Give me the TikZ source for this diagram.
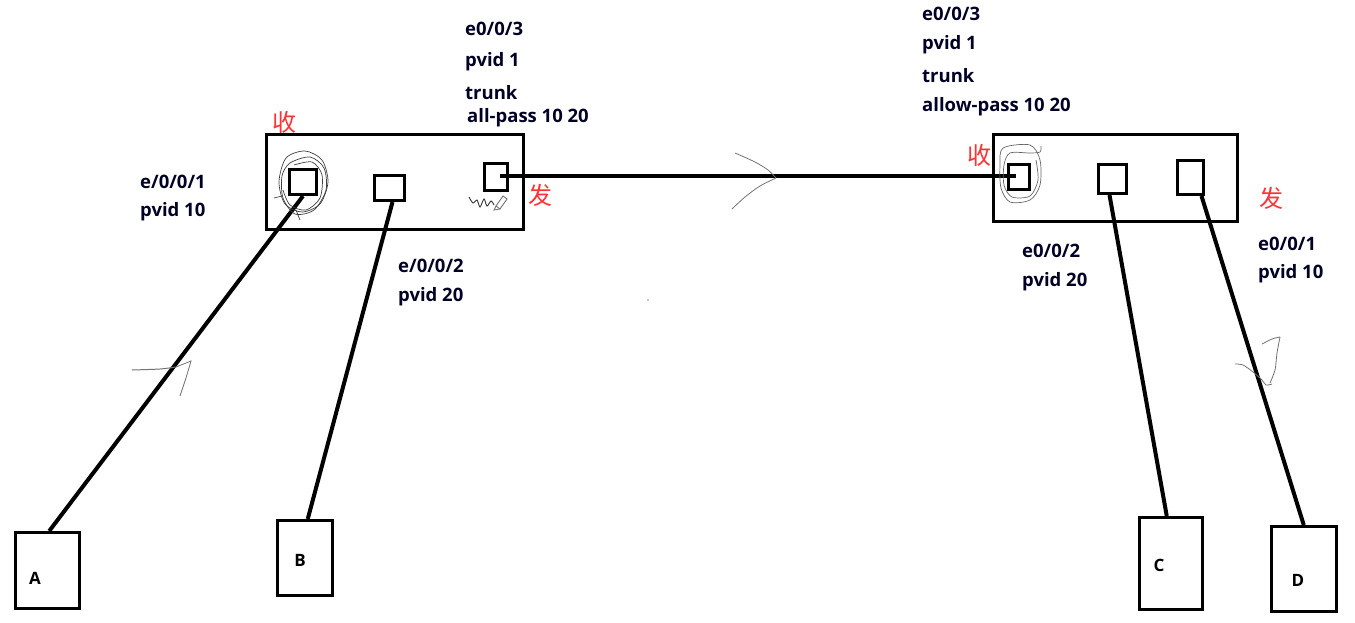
\documentclass[tikz,border=0pt]{standalone}
\usepackage{fontspec}
\setmainfont{Open Sans}
\newfontfamily\cjk{Noto Sans CJK SC}
\begin{document}
\begin{tikzpicture}[x=1pt,y=-1pt,
  sw/.style={draw=black,line width=3pt,inner sep=0pt,anchor=north west},
  port/.style={draw=black,line width=3pt,inner sep=0pt,anchor=north west},
  host/.style={draw=black,line width=2.5pt,inner sep=0pt,anchor=north west},
  link/.style={line width=4pt,black},
  lbl/.style={anchor=west,inner sep=0pt,font=\fontsize{18.5}{20}\selectfont\bfseries,text=black!85!blue},
  hl/.style={inner sep=0pt,font=\fontsize{17}{19}\selectfont\bfseries},
  cn/.style={inner sep=0pt,font=\cjk\fontsize{24}{26}\selectfont,text=red!80!white},
  scrib/.style={line width=0.7pt,black!75},
  pen/.style={line width=0.9pt,black!55}]
\useasboundingbox[fill=white] (0,0) rectangle (1355,623);
% switches
\node[sw,minimum width=257pt,minimum height=95pt] (s1) at (265,133) {};
\node[sw,minimum width=244pt,minimum height=87pt] (s2) at (992,133) {};
% ports
\node[port,minimum width=27pt,minimum height=25pt] (p1) at (288,168) {};
\node[port,minimum width=30pt,minimum height=25pt] (p2) at (373,174) {};
\node[port,minimum width=23pt,minimum height=27pt] (p3) at (483,162) {};
\node[port,minimum width=21pt,minimum height=25pt] (r1) at (1007,163) {};
\node[port,minimum width=28pt,minimum height=29pt] (r2) at (1097,163) {};
\node[port,minimum width=26pt,minimum height=34pt] (r3) at (1176,159) {};
% hosts
\node[host,minimum width=64pt,minimum height=76pt] (A) at (14,531) {};
\node[host,minimum width=55pt,minimum height=75pt] (B) at (276,519) {};
\node[host,minimum width=63pt,minimum height=92pt] (C) at (1138,516) {};
\node[host,minimum width=65pt,minimum height=85pt] (D) at (1270,525) {};
\node[hl] (la) at (35,578) {A};
\node[hl] (lb) at (300,560) {B};
\node[hl] (lc) at (1159,565) {C};
\node[hl] (ld) at (1298,580) {D};
% links
\coordinate (p3e) at (500,176);
\coordinate (r1e) at (1016,176);
\draw[line width=3.5pt] (p3e) -- (r1e);
\draw[link] (p1.south) -- ([xshift=2pt]A.north);
\draw[link] ([xshift=3pt]p2.south) -- ([xshift=3pt]B.north);
\draw[link] ([xshift=-3pt]r2.south) -- ([xshift=-4pt]C.north);
\draw[link] ([xshift=11pt]r3.south) -- (D.north);
% labels
\node[lbl] (t1) at (140,182) {e/0/0/1};
\node[lbl] (t2) at (140,212) {pvid 10};
\node[lbl] (t3) at (398,266) {e/0/0/2};
\node[lbl] (t4) at (398,297) {pvid 20};
\node[lbl] (t5) at (465,29) {e0/0/3};
\node[lbl] (t6) at (465,62) {pvid 1};
\node[lbl] (t7) at (465,93) {trunk};
\node[lbl] (t8) at (467,118) {all-pass 10 20};
\node[lbl] (u1) at (922,14) {e0/0/3};
\node[lbl] (u2) at (922,45) {pvid 1};
\node[lbl] (u3) at (922,76) {trunk};
\node[lbl] (u4) at (922,107) {allow-pass 10 20};
\node[lbl] (u5) at (1022,251) {e0/0/2};
\node[lbl] (u6) at (1022,282) {pvid 20};
\node[lbl] (u7) at (1258,244) {e0/0/1};
\node[lbl] (u8) at (1258,274) {pvid 10};
% chinese marks
\node[cn] (c1) at (284,122) {收};
\node[cn] (c2) at (540,195) {发};
\node[cn] (c3) at (979,155) {收};
\node[cn] (c4) at (1271,198) {发};
% scribbles around left receive port
\draw[scrib] plot[smooth cycle] coordinates {(286,158) (305,151) (322,160) (328,182) (320,204) (302,212) (285,204) (279,182)};
\draw[scrib] plot[smooth cycle] coordinates {(290,163) (310,157) (324,168) (326,190) (314,210) (295,214) (283,198) (282,176)};
\draw[scrib] plot[smooth] coordinates {(294,165) (312,162) (322,175) (320,198) (306,210) (290,205) (283,190)};
\draw[scrib] (282,196) -- (274,198);
\draw[scrib] (296,210) -- (300,220);
% scribbles around right receive port
\draw[scrib,black!60] plot[smooth cycle] coordinates {(1003,148) (1030,145) (1040,160) (1040,185) (1030,200) (1010,202) (1001,188) (1000,165)};
\draw[scrib,black!60] plot[smooth] coordinates {(1041,146) (1040,152) (1030,153) (1010,153) (1004,165) (1004,185) (1012,197) (1030,196) (1038,180) (1036,160)};
% squiggle and pencil near trunk port
\draw[pen,black!80] plot[smooth] coordinates {(469,197) (473,203) (477,200) (480,207) (484,199) (487,206) (491,201) (494,205)};
\draw[pen] (496,206) -- (503,196) -- (507,199) -- (500,209) -- cycle;
\draw[pen] (496,206) -- (494,210) -- (500,209);
% hand drawn direction arrows
\draw[line width=1pt,black!55] plot[smooth] coordinates {(132,370) (160,369) (176,367)};
\draw[line width=0.8pt,black!55] (176,367) -- (191,361) -- (186,378) -- (180,396);
\draw[line width=0.8pt,black!55] plot[smooth] coordinates {(735,153) (755,162) (768,170) (776,178)};
\draw[line width=0.8pt,black!55] plot[smooth] coordinates {(776,178) (760,186) (745,197) (732,209)};
\draw[line width=0.8pt,black!55] plot[smooth] coordinates {(1262,344) (1272,339) (1280,337)};
\draw[line width=0.8pt,black!55] plot[smooth] coordinates {(1280,337) (1277,353) (1275,370) (1270,383)};
\draw[line width=0.8pt,black!55] plot[smooth] coordinates {(1235,364) (1243,365) (1253,372) (1262,380) (1266,385) (1272,384)};
% stray dot
\fill[black!50] (648,300) circle (0.8pt);
\end{tikzpicture}
\end{document}
